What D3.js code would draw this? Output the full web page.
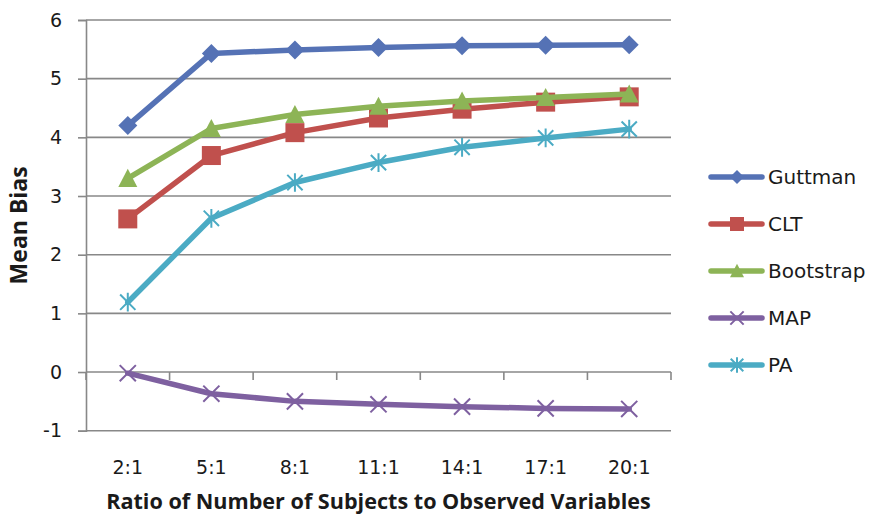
<!DOCTYPE html>
<html>
<head>
<meta charset="utf-8">
<script src="https://cdn.jsdelivr.net/npm/d3@7"></script>
<style>
  html, body { margin: 0; padding: 0; background: #fff; }
  svg { display: block; }
</style>
</head>
<body>
<svg id="chart" width="872" height="516"></svg>
<script>
// Ratio categories along the x axis
const categories = ["2:1", "5:1", "8:1", "11:1", "14:1", "17:1", "20:1"];

// Mean bias per method
const guttman   = [4.20, 5.43, 5.49, 5.53, 5.56, 5.57, 5.58];
const clt       = [2.61, 3.69, 4.08, 4.33, 4.48, 4.60, 4.69];
const bootstrap = [3.30, 4.15, 4.39, 4.53, 4.62, 4.68, 4.74];
const map       = [-0.02, -0.37, -0.50, -0.55, -0.59, -0.62, -0.63];
const pa        = [1.19, 2.62, 3.23, 3.57, 3.83, 3.99, 4.14];

const yTicks = [-1, 0, 1, 2, 3, 4, 5, 6];

const series = [
  { name: "Guttman",   values: guttman,   color: "#5572B5", marker: "diamond" },
  { name: "CLT",       values: clt,       color: "#C0504D", marker: "square" },
  { name: "Bootstrap", values: bootstrap, color: "#8DB456", marker: "triangle" },
  { name: "MAP",       values: map,       color: "#7E60A0", marker: "x" },
  { name: "PA",        values: pa,        color: "#4BABC4", marker: "star" }
];

const svg = d3.select("#chart");
const plot = { left: 86, right: 671, top: 20, bottom: 430.7 };
const gridColor = "#888888";
const textColor = "#1a1a1a";

const x = d3.scaleBand().domain(categories).range([plot.left, plot.right]).padding(0);
const y = d3.scaleLinear().domain([-1, 6]).range([plot.bottom, plot.top]);
const cx = c => x(c) + x.bandwidth() / 2;

// Horizontal gridlines with y axis ticks and labels (plain hyphen for negatives)
const yAxis = d3.axisLeft(y).tickValues(yTicks).tickSize(8).tickPadding(16).tickFormat(d => String(d));
const yg = svg.append("g").attr("transform", `translate(${plot.left},0)`).call(yAxis);
yg.select(".domain").attr("stroke", gridColor).attr("stroke-width", 1.6);
yg.selectAll(".tick line").attr("stroke", gridColor).attr("stroke-width", 1.6);
yg.selectAll(".tick text")
  .attr("fill", textColor)
  .style("font-family", "'DejaVu Sans', sans-serif")
  .style("font-size", "19px");

svg.append("g").selectAll("line").data(yTicks).join("line")
  .attr("x1", plot.left).attr("x2", plot.right)
  .attr("y1", d => y(d)).attr("y2", d => y(d))
  .attr("stroke", gridColor).attr("stroke-width", 1.6);

// Category axis crossing at zero, boundary ticks pointing down
const boundaries = categories.map(c => x(c)).concat([plot.right]);
svg.append("g").selectAll("line").data(boundaries).join("line")
  .attr("x1", d => d).attr("x2", d => d)
  .attr("y1", y(0)).attr("y2", y(0) + 8)
  .attr("stroke", gridColor).attr("stroke-width", 1.6);

// Category labels sit below the plot area
svg.append("g").selectAll("text").data(categories).join("text")
  .attr("x", d => cx(d)).attr("y", 474)
  .attr("text-anchor", "middle")
  .attr("fill", textColor)
  .style("font-family", "'DejaVu Sans', sans-serif")
  .style("font-size", "19px")
  .text(d => d);

// Axis titles
svg.append("text")
  .attr("x", (plot.left + plot.right) / 2).attr("y", 509)
  .attr("text-anchor", "middle")
  .attr("fill", textColor)
  .style("font-family", "'Open Sans', sans-serif")
  .style("font-weight", "bold")
  .style("font-size", "21.6px")
  .text("Ratio of Number of Subjects to Observed Variables");

svg.append("text")
  .attr("transform", `translate(27,${(plot.top + plot.bottom) / 2}) rotate(-90)`)
  .attr("text-anchor", "middle")
  .attr("fill", textColor)
  .style("font-family", "'Open Sans', sans-serif")
  .style("font-weight", "bold")
  .style("font-size", "23px")
  .text("Mean Bias");

// Marker drawing
function drawMarker(g, type, color, s) {
  const h = s / 2;
  if (type === "diamond") {
    g.append("path").attr("d", `M0,${-h}L${h},0L0,${h}L${-h},0Z`).attr("fill", color);
  } else if (type === "square") {
    g.append("rect").attr("x", -h).attr("y", -h).attr("width", s).attr("height", s).attr("fill", color);
  } else if (type === "triangle") {
    const th = s * 0.9;
    g.append("path").attr("d", `M0,${-th / 2 - 1}L${h},${th / 2}L${-h},${th / 2}Z`).attr("fill", color);
  } else if (type === "x") {
    const k = h * 0.95;
    g.append("path").attr("d", `M${-k},${-k}L${k},${k}M${-k},${k}L${k},${-k}`)
      .attr("stroke", color).attr("stroke-width", 2).attr("fill", "none");
  } else if (type === "star") {
    const k = h * 0.9;
    g.append("path").attr("d", `M${-k},${-k}L${k},${k}M${-k},${k}L${k},${-k}M0,${-h * 1.1}L0,${h * 1.1}`)
      .attr("stroke", color).attr("stroke-width", 2).attr("fill", "none");
  }
}

const line = d3.line().x(d => cx(d.c)).y(d => y(d.v));

series.forEach(s => {
  const pts = categories.map((c, i) => ({ c, v: s.values[i] }));
  const g = svg.append("g");
  g.append("path").datum(pts)
    .attr("d", line)
    .attr("fill", "none")
    .attr("stroke", s.color)
    .attr("stroke-width", 5.5)
    .attr("stroke-linejoin", "round")
    .attr("stroke-linecap", "round");
  pts.forEach(p => {
    const mg = g.append("g").attr("transform", `translate(${cx(p.c)},${y(p.v)})`);
    drawMarker(mg, s.marker, s.color, s.marker === "x" || s.marker === "star" ? 17 : 19);
  });
});

// Legend
const legend = svg.append("g");
series.forEach((s, i) => {
  const ly = 177 + i * 47;
  const g = legend.append("g").attr("transform", `translate(0,${ly})`);
  g.append("line").attr("x1", 711).attr("x2", 762).attr("y1", 0).attr("y2", 0)
    .attr("stroke", s.color).attr("stroke-width", 5.5).attr("stroke-linecap", "round");
  drawMarker(g.append("g").attr("transform", "translate(737,0)"), s.marker, s.color, 14);
  g.append("text").attr("x", 768).attr("y", 0).attr("dy", "0.36em")
    .attr("fill", textColor)
    .style("font-family", "'DejaVu Sans', sans-serif")
    .style("font-size", "20px")
    .text(s.name);
});
</script>
</body>
</html>
